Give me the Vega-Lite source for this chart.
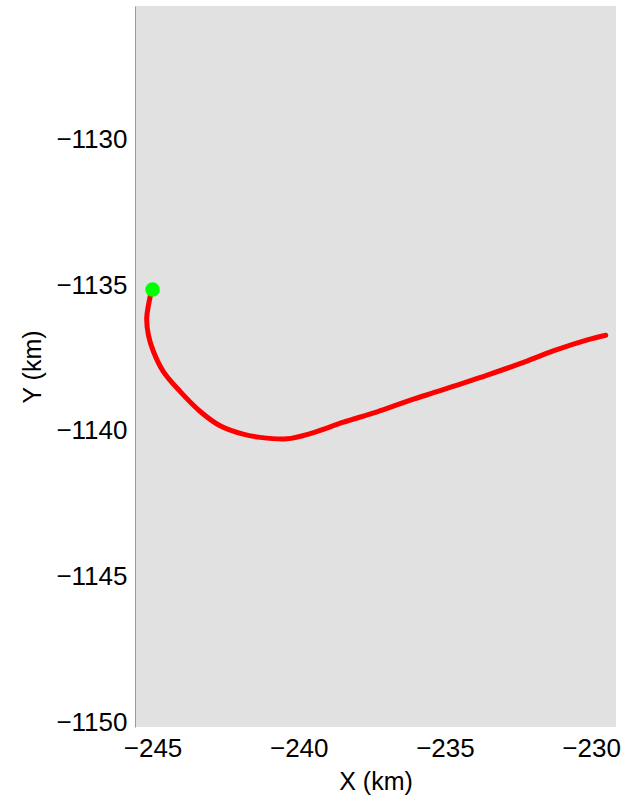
{
  "$schema": "https://vega.github.io/schema/vega-lite/v6.json",
  "width": 481,
  "height": 721,
  "autosize": {"type": "none"},
  "padding": {"left": 135, "top": 6, "right": 8, "bottom": 74},
  "background": "white",
  "config": {
    "view": {"fill": "#e1e1e1", "stroke": null},
    "axis": {"labelFont": "Liberation Sans", "titleFont": "Liberation Sans", "labelFontSize": 26, "titleFontSize": 25, "labelColor": "black", "titleColor": "black", "titleFontWeight": "normal", "ticks": false, "grid": false}
  },
  "datasets": {
    "track": [
      {"x": -245.03, "y": -1135.16},
      {"x": -245.14, "y": -1135.68},
      {"x": -245.20, "y": -1136.13},
      {"x": -245.14, "y": -1136.71},
      {"x": -244.97, "y": -1137.27},
      {"x": -244.63, "y": -1137.96},
      {"x": -244.06, "y": -1138.64},
      {"x": -243.37, "y": -1139.33},
      {"x": -242.69, "y": -1139.82},
      {"x": -241.90, "y": -1140.11},
      {"x": -241.32, "y": -1140.22},
      {"x": -240.40, "y": -1140.27},
      {"x": -239.61, "y": -1140.09},
      {"x": -238.47, "y": -1139.70},
      {"x": -237.32, "y": -1139.34},
      {"x": -236.18, "y": -1138.94},
      {"x": -235.27, "y": -1138.65},
      {"x": -234.70, "y": -1138.46},
      {"x": -233.55, "y": -1138.08},
      {"x": -232.41, "y": -1137.68},
      {"x": -231.27, "y": -1137.24},
      {"x": -230.13, "y": -1136.87},
      {"x": -229.50, "y": -1136.71}
    ],
    "start": [{"x": -245.0, "y": -1135.14}]
  },
  "layer": [
    {
      "data": {"name": "track"},
      "mark": {"type": "line", "color": "#ff0000", "strokeWidth": 5, "strokeCap": "round", "strokeJoin": "round", "interpolate": "catmull-rom"},
      "encoding": {
        "x": {"field": "x", "type": "quantitative", "scale": {"domain": [-245.6, -229.15], "nice": false, "zero": false},
          "axis": {"title": "X (km)", "values": [-245, -240, -235, -230], "format": "d", "domain": false, "labelPadding": 8, "titlePadding": 8}},
        "y": {"field": "y", "type": "quantitative", "scale": {"domain": [-1150.17, -1125.4], "nice": false, "zero": false},
          "axis": {"title": "Y (km)", "values": [-1130, -1135, -1140, -1145, -1150], "format": "d", "domain": true, "domainColor": "#9a9a9a", "domainWidth": 1, "labelPadding": 8, "titlePadding": 10}},
        "order": {"field": "order_none", "type": "quantitative"}
      }
    },
    {
      "data": {"name": "start"},
      "mark": {"type": "point", "shape": "circle", "filled": true, "color": "#00ff00", "size": 210, "opacity": 1},
      "encoding": {
        "x": {"field": "x", "type": "quantitative"},
        "y": {"field": "y", "type": "quantitative"}
      }
    }
  ]
}
